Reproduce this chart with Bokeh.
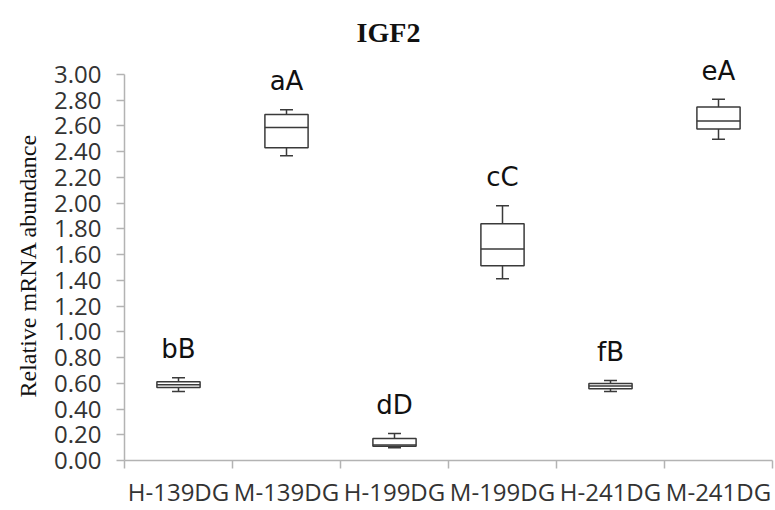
from bokeh.plotting import figure
from bokeh.models import FixedTicker, Range1d, PrintfTickFormatter, ColumnDataSource, Title, Label
from bokeh.core.properties import value
from bokeh.embed import file_html
from bokeh.resources import INLINE

categories = ["H-139DG", "M-139DG", "H-199DG", "M-199DG", "H-241DG", "M-241DG"]
whisker_low = [0.537, 2.367, 0.100, 1.413, 0.537, 2.496]
q1 = [0.568, 2.429, 0.110, 1.514, 0.558, 2.576]
median = [0.589, 2.587, 0.120, 1.643, 0.579, 2.638]
q3 = [0.612, 2.688, 0.170, 1.840, 0.599, 2.747]
whisker_high = [0.643, 2.726, 0.210, 1.979, 0.622, 2.806]
letters = ["bB", "aA", "dD", "cC", "fB", "eA"]
y_ticks = [0.0, 0.2, 0.4, 0.6, 0.8, 1.0, 1.2, 1.4, 1.6, 1.8, 2.0, 2.2, 2.4, 2.6, 2.8, 3.0]

n = len(categories)
xc = [i + 0.5 for i in range(n)]
half_box = 0.2
half_cap = 0.06
label_gap = 0.22

src = ColumnDataSource(dict(
    x=xc,
    left=[x - half_box for x in xc],
    right=[x + half_box for x in xc],
    cap_l=[x - half_cap for x in xc],
    cap_r=[x + half_cap for x in xc],
    lo=whisker_low, q1=q1, med=median, q3=q3, hi=whisker_high,
    lab=letters,
    lab_y=[h + label_gap for h in whisker_high],
))

AXIS = "#b3b3b3"
LINE = "#3a3a3a"

# the frame reaches the top of the page so the title can sit inside it
p = figure(width=775, height=510, output_backend="svg", toolbar_location=None,
           x_range=Range1d(0, n), y_range=Range1d(0, 3.574),
           min_border_left=124, min_border_right=3, min_border_top=0, min_border_bottom=49)
p.title.visible = False
p.outline_line_color = None
p.xgrid.visible = False
p.ygrid.visible = False
p.background_fill_color = "white"

# screen units are measured from the frame's lower-left corner
title = Label(x=264, y=428, x_units="screen", y_units="screen", text="IGF2",
              text_font="Liberation Serif", text_font_style="bold", text_font_size="28px",
              text_color="#111111", text_align="center", text_baseline="alphabetic")
p.add_layout(title)

xa = p.xaxis[0]
xa.ticker = FixedTicker(ticks=xc, minor_ticks=list(range(n + 1)))
xa.major_label_overrides = {x: c for x, c in zip(xc, categories)}
xa.major_tick_line_color = None
xa.minor_tick_line_color = AXIS
xa.minor_tick_out = 8
xa.minor_tick_in = 0
xa.axis_line_color = AXIS
xa.axis_line_width = 1.5
xa.minor_tick_line_width = 1.5
xa.major_label_text_font = "Open Sans"
xa.major_label_text_font_size = "24px"
xa.major_label_text_color = "#333333"
xa.major_label_standoff = 6

ya = p.yaxis[0]
ya.ticker = FixedTicker(ticks=y_ticks, minor_ticks=[])
ya.formatter = PrintfTickFormatter(format="%.2f")
ya.bounds = (0, 3)
ya.major_tick_out = 8
ya.major_tick_in = 0
ya.major_tick_line_color = AXIS
ya.major_tick_line_width = 1.5
ya.axis_line_color = AXIS
ya.axis_line_width = 1.5
ya.major_label_text_font = "Open Sans"
ya.major_label_text_font_size = "24px"
ya.major_label_text_color = "#333333"
ya.major_label_standoff = 15

ylab = Title(text="Relative mRNA abundance", align="left", offset=63, standoff=22,
             text_font="Liberation Serif", text_font_style="normal", text_font_size="24px",
             text_color="#111111")
p.add_layout(ylab, "left")

p.segment(x0="x", y0="q3", x1="x", y1="hi", source=src, line_color=LINE, line_width=1.5)
p.segment(x0="x", y0="lo", x1="x", y1="q1", source=src, line_color=LINE, line_width=1.5)
p.segment(x0="cap_l", y0="hi", x1="cap_r", y1="hi", source=src, line_color=LINE, line_width=1.5)
p.segment(x0="cap_l", y0="lo", x1="cap_r", y1="lo", source=src, line_color=LINE, line_width=1.5)
p.quad(left="left", right="right", bottom="q1", top="q3", source=src,
       fill_color="white", line_color=LINE, line_width=1.5)
p.segment(x0="left", y0="med", x1="right", y1="med", source=src, line_color=LINE, line_width=1.5)
p.text(x="x", y="lab_y", text="lab", source=src, text_font=value("DejaVu Sans"),
       text_font_size="26px", text_align="center", text_baseline="middle", text_color="#111111")

open("out.html", "w").write(file_html(p, INLINE))
